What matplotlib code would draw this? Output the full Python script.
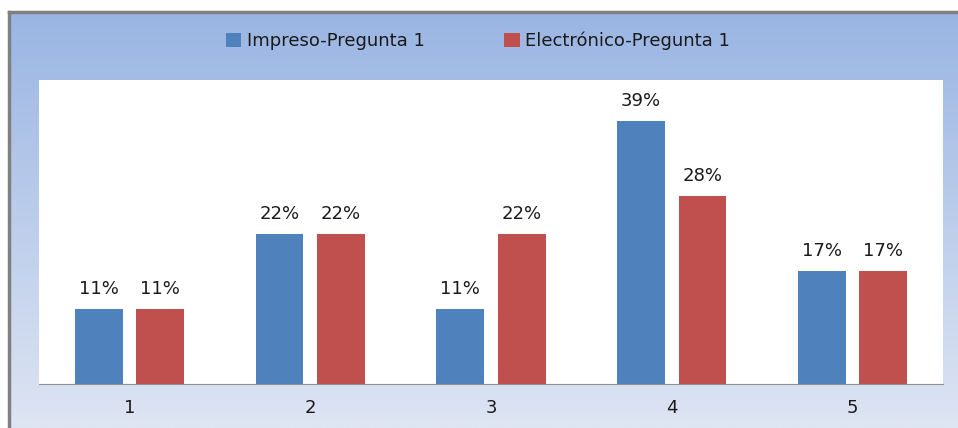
import matplotlib.pyplot as plt
import numpy as np

categories = ['1', '2', '3', '4', '5']
impreso = [11.1, 22.2, 11.1, 38.9, 16.7]
electronico = [11.1, 22.2, 22.2, 27.8, 16.7]
series_names = ['Impreso-Pregunta 1', 'Electrónico-Pregunta 1']
labels_imp = ['11%', '22%', '11%', '39%', '17%']
labels_ele = ['11%', '22%', '22%', '28%', '17%']

blue = '#4F81BD'
red = '#C0504D'

plt.rcParams['font.family'] = ['DejaVu Sans']

fig = plt.figure(figsize=(9.58, 4.28), dpi=100)

# gradient background of the chart frame
bg = fig.add_axes([9 / 958, 0, 949 / 958, 416 / 428])
top_c = np.array([0x9A, 0xB5, 0xE3]) / 255
bot_c = np.array([0xDE, 0xE5, 0xF3]) / 255
t = np.linspace(0, 1, 256)[:, None]
grad = top_c * (1 - t) + bot_c * t
bg.imshow(grad[:, None, :].repeat(2, axis=1), aspect='auto', extent=[0, 1, 0, 1])
bg.set_xlim(0, 1)
bg.set_ylim(0, 1)
bg.set_xticks([])
bg.set_yticks([])
for s in ['right', 'bottom']:
    bg.spines[s].set_visible(False)
for s in ['left', 'top']:
    bg.spines[s].set_color('#808080')
    bg.spines[s].set_linewidth(2.5)

ax = fig.add_axes([39 / 958, 44 / 428, 904 / 958, 304 / 428])
x = np.arange(len(categories))
w = 0.265
off = 0.17
b1 = ax.bar(x - off, impreso, w, color=blue, label=series_names[0])
b2 = ax.bar(x + off, electronico, w, color=red, label=series_names[1])

for rect, lab in zip(b1, labels_imp):
    ax.annotate(lab, (rect.get_x() + rect.get_width() / 2, rect.get_height()),
                xytext=(0, 8), textcoords='offset points', ha='center', va='bottom',
                fontsize=13, color='#1a1a1a')
for rect, lab in zip(b2, labels_ele):
    ax.annotate(lab, (rect.get_x() + rect.get_width() / 2, rect.get_height()),
                xytext=(0, 8), textcoords='offset points', ha='center', va='bottom',
                fontsize=13, color='#1a1a1a')

ax.set_xlim(-0.5, 4.5)
ax.set_ylim(0, 45)
ax.set_yticks([])
ax.set_xticks(x)
ax.set_xticklabels(categories, fontsize=13, color='#1a1a1a')
ax.tick_params(axis='x', length=0, pad=11)
for s in ['left', 'right', 'top']:
    ax.spines[s].set_visible(False)
ax.spines['bottom'].set_color('#909090')
ax.set_facecolor('white')

fig.legend(handles=[b1, b2], labels=series_names, loc='center',
           bbox_to_anchor=(478 / 958, 1 - 41 / 428), ncol=2, frameon=False,
           fontsize=13, handlelength=0.85, handleheight=0.85, handletextpad=0.3,
           columnspacing=4.4, labelcolor='#1a1a1a')

fig.savefig('out.png', dpi=100)
